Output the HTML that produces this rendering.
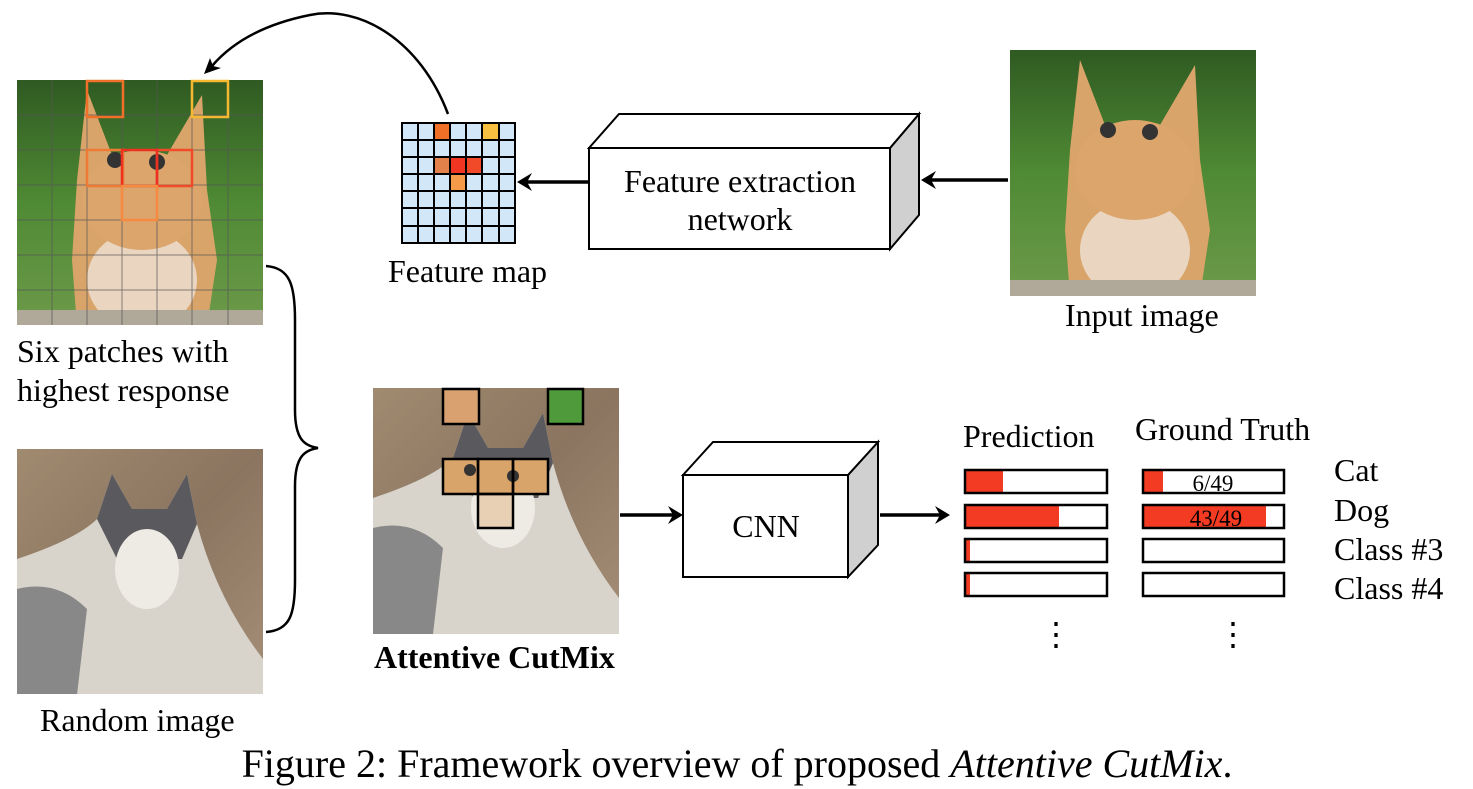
<!DOCTYPE html>
<html><head><meta charset="utf-8"><style>
html,body{margin:0;padding:0;background:#fff;width:1473px;height:789px;overflow:hidden}
svg{display:block}
text{font-family:"Liberation Serif",serif;fill:#000}
</style></head><body>
<svg width="1473" height="789" viewBox="0 0 1473 789" xmlns="http://www.w3.org/2000/svg">
<defs>
<linearGradient id="grass" x1="0" y1="0" x2="0" y2="1"><stop offset="0" stop-color="#2f5a22"/><stop offset="0.5" stop-color="#4f8a34"/><stop offset="1" stop-color="#6d9a4a"/></linearGradient>
<linearGradient id="hay" x1="0" y1="0" x2="1" y2="1"><stop offset="0" stop-color="#a08a70"/><stop offset="0.5" stop-color="#8b7560"/><stop offset="1" stop-color="#a58f78"/></linearGradient>
<clipPath id="c1"><rect x="17" y="80" width="246" height="245"/></clipPath>
<clipPath id="c2"><rect x="1010" y="50" width="246" height="246"/></clipPath>
<clipPath id="c3"><rect x="17" y="449" width="246" height="245"/></clipPath>
<clipPath id="c4"><rect x="373" y="388" width="246" height="246"/></clipPath>
<g id="cat">
<rect x="0" y="0" width="246" height="246" fill="url(#grass)"/>
<path d="M70 10 L95 75 L150 75 L185 15 L190 110 L200 180 L190 246 L60 246 L55 180 L60 100 Z" fill="#d9a46a"/>
<ellipse cx="125" cy="200" rx="55" ry="50" fill="#ead6c0"/>
<ellipse cx="125" cy="120" rx="60" ry="50" fill="#dba56c"/>
<circle cx="98" cy="80" r="8" fill="#333"/><circle cx="140" cy="82" r="8" fill="#333"/>
<rect x="0" y="230" width="246" height="16" fill="#b0a898"/>
</g>
<g id="dog">
<rect x="0" y="0" width="246" height="246" fill="url(#hay)"/>
<path d="M0 110 Q60 90 80 70 L95 25 L115 60 L150 60 L170 25 L180 75 Q200 150 246 210 L246 246 L0 246 Z" fill="#d8d4cc"/>
<path d="M80 70 L95 25 L115 60 L150 60 L170 25 L180 75 L165 110 L100 110 Z" fill="#5a5a5e"/>
<ellipse cx="130" cy="120" rx="32" ry="40" fill="#eeeae4"/>
<path d="M0 140 Q40 130 70 160 L60 246 L0 246 Z" fill="#55555a" opacity="0.6"/>
</g>
</defs>

<g clip-path="url(#c2)"><use href="#cat" x="1010" y="50"/></g>
<g clip-path="url(#c1)"><use href="#cat" x="17" y="80"/></g>
<g stroke="#555" stroke-width="1" opacity="0.7">
<line x1="52" y1="80" x2="52" y2="325"/><line x1="87" y1="80" x2="87" y2="325"/><line x1="122" y1="80" x2="122" y2="325"/><line x1="157" y1="80" x2="157" y2="325"/><line x1="192" y1="80" x2="192" y2="325"/><line x1="228" y1="80" x2="228" y2="325"/>
<line x1="17" y1="115" x2="263" y2="115"/><line x1="17" y1="150" x2="263" y2="150"/><line x1="17" y1="185" x2="263" y2="185"/><line x1="17" y1="220" x2="263" y2="220"/><line x1="17" y1="255" x2="263" y2="255"/><line x1="17" y1="290" x2="263" y2="290"/>
</g>
<g fill="none" stroke-width="2.5">
<rect x="87" y="81" width="36" height="36" stroke="#f07028"/>
<rect x="192" y="81" width="36" height="36" stroke="#f5b830"/>
<rect x="87" y="150" width="36" height="36" stroke="#ee7a35"/>
<rect x="157" y="150" width="35" height="36" stroke="#f04a28"/>
<rect x="122" y="150" width="35" height="36" stroke="#ee3020"/>
<rect x="122" y="186" width="35" height="34" stroke="#f58a40"/>
</g>
<g clip-path="url(#c3)"><use href="#dog" x="17" y="449"/></g>
<g clip-path="url(#c4)"><use href="#dog" x="373" y="388"/></g>
<rect x="443" y="389" width="36" height="35" fill="#d9a070"/>
<rect x="548" y="389" width="35" height="35" fill="#4f9a3a"/>
<rect x="443" y="459" width="105" height="35" fill="#d9a46a"/>
<rect x="478" y="494" width="35" height="34" fill="#e8d0b4"/>
<circle cx="470" cy="470" r="6" fill="#333"/><circle cx="513" cy="476" r="6" fill="#333"/>
<g fill="none" stroke="#000" stroke-width="2.5">
<rect x="443" y="389" width="36" height="35"/><rect x="548" y="389" width="35" height="35"/>
<rect x="443" y="459" width="35" height="35"/><rect x="478" y="459" width="35" height="35"/><rect x="513" y="459" width="35" height="35"/>
<rect x="478" y="494" width="35" height="34"/>
</g>

<rect x="402" y="123" width="113" height="120" fill="#d2e8f8"/>
<rect x="434" y="123" width="16" height="17" fill="#f07028"/>
<rect x="482" y="123" width="17" height="17" fill="#f8c040"/>
<rect x="434" y="157" width="16" height="17" fill="#e2824a"/>
<rect x="450" y="157" width="16" height="17" fill="#f03522"/>
<rect x="466" y="157" width="16" height="17" fill="#f04a28"/>
<rect x="450" y="174" width="16" height="17" fill="#f59a48"/>
<g stroke="#000" stroke-width="2" fill="none">
<rect x="402" y="123" width="113" height="120"/>
<line x1="418" y1="123" x2="418" y2="243"/><line x1="434" y1="123" x2="434" y2="243"/><line x1="450" y1="123" x2="450" y2="243"/><line x1="466" y1="123" x2="466" y2="243"/><line x1="482" y1="123" x2="482" y2="243"/><line x1="499" y1="123" x2="499" y2="243"/>
<line x1="402" y1="140" x2="515" y2="140"/><line x1="402" y1="157" x2="515" y2="157"/><line x1="402" y1="174" x2="515" y2="174"/><line x1="402" y1="191" x2="515" y2="191"/><line x1="402" y1="208" x2="515" y2="208"/><line x1="402" y1="226" x2="515" y2="226"/>
</g>

<g stroke="#000" stroke-width="2">
<path d="M890 148 L919 114 L919 215 L890 249 Z" fill="#d0d0d0"/>
<path d="M589 148 L619 114 L919 114 L890 148 Z" fill="#fff"/>
<rect x="589" y="148" width="301" height="101" fill="#fff"/>
</g>
<text x="740" y="192" font-size="32" text-anchor="middle">Feature extraction</text>
<text x="740" y="230" font-size="32" text-anchor="middle">network</text>

<g stroke="#000" stroke-width="2">
<path d="M848 475 L878 442 L878 545 L848 577 Z" fill="#d0d0d0"/>
<path d="M683 475 L713 442 L878 442 L848 475 Z" fill="#fff"/>
<rect x="683" y="475" width="165" height="102" fill="#fff"/>
</g>
<text x="766" y="537" font-size="32" text-anchor="middle">CNN</text>

<g stroke="#000" stroke-width="3.5" fill="none">
<line x1="1008" y1="180" x2="928" y2="180"/>
<line x1="589" y1="182" x2="524" y2="182"/>
<line x1="620" y1="515" x2="676" y2="515"/>
<line x1="880" y1="515" x2="943" y2="515"/>
</g>
<g fill="#000">
<path d="M921 180 L936 171 L931 180 L936 189 Z"/>
<path d="M517 182 L532 173 L527 182 L532 191 Z"/>
<path d="M683 515 L668 506 L673 515 L668 524 Z"/>
<path d="M950 515 L935 506 L940 515 L935 524 Z"/>
</g>
<path d="M448 114 C420 40 360 5 310 15 C260 25 230 45 212 66" stroke="#000" stroke-width="2.5" fill="none"/>
<path d="M204 74 L210 58 L213 66 L221 68 Z" fill="#000"/>
<path d="M266 266 C290 268 295 285 295 320 L295 410 C295 440 305 446 318 448 C305 450 295 456 295 486 L295 580 C295 615 290 630 266 632" stroke="#000" stroke-width="2.5" fill="none"/>

<g>
<rect x="965" y="470" width="38" height="23" fill="#f33a22"/>
<rect x="965" y="505" width="94" height="23" fill="#f33a22"/>
<rect x="965" y="539" width="5" height="23" fill="#f33a22"/>
<rect x="965" y="573" width="5" height="23" fill="#f33a22"/>
<rect x="1143" y="470" width="20" height="23" fill="#f33a22"/>
<rect x="1143" y="505" width="123" height="23" fill="#f33a22"/>
</g>
<g fill="none" stroke="#000" stroke-width="2.5">
<rect x="965" y="470" width="142" height="23"/><rect x="965" y="505" width="142" height="23"/>
<rect x="965" y="539" width="142" height="23"/><rect x="965" y="573" width="142" height="23"/>
<rect x="1143" y="470" width="141" height="23"/><rect x="1143" y="505" width="141" height="23"/>
<rect x="1143" y="539" width="141" height="23"/><rect x="1143" y="573" width="141" height="23"/>
</g>
<text x="1213" y="491" font-size="23" text-anchor="middle">6/49</text>
<text x="1216" y="526" font-size="23" text-anchor="middle">43/49</text>

<g font-size="32">
<text x="388" y="282">Feature map</text>
<text x="1065" y="326">Input image</text>
<text x="17" y="362">Six patches with</text>
<text x="17" y="401">highest response</text>
<text x="40" y="731">Random image</text>
<text x="374" y="668" font-weight="bold">Attentive CutMix</text>
<text x="963" y="447">Prediction</text>
<text x="1135" y="440">Ground Truth</text>
<text x="1334" y="481">Cat</text>
<text x="1334" y="521">Dog</text>
<text x="1334" y="560">Class #3</text>
<text x="1334" y="599">Class #4</text>
<text x="1040" y="645">⋮</text>
<text x="1217" y="645">⋮</text>
</g>
<text x="737" y="777" font-size="40" text-anchor="middle">Figure 2: Framework overview of proposed <tspan font-style="italic">Attentive CutMix</tspan>.</text>
</svg>
</body></html>
